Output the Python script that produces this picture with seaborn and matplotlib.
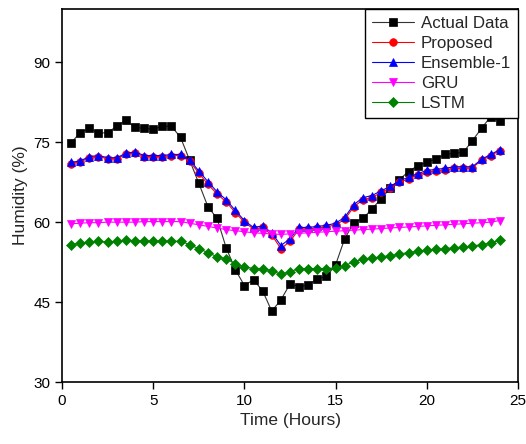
import matplotlib
matplotlib.use("Agg")
import matplotlib.pyplot as plt
import seaborn as sns
import numpy as np

hours = [0.5, 1, 1.5, 2, 2.5, 3, 3.5, 4, 4.5, 5, 5.5, 6, 6.5, 7, 7.5, 8, 8.5, 9, 9.5, 10,
         10.5, 11, 11.5, 12, 12.5, 13, 13.5, 14, 14.5, 15, 15.5, 16, 16.5, 17, 17.5, 18,
         18.5, 19, 19.5, 20, 20.5, 21, 21.5, 22, 22.5, 23, 23.5, 24]

actual = [74.9, 76.8, 77.6, 76.7, 76.8, 78.0, 79.1, 77.8, 77.6, 77.4, 78.0, 78.0, 75.9, 71.6,
          67.3, 62.9, 60.7, 55.2, 51.1, 48.1, 49.2, 47.1, 43.3, 45.4, 48.4, 47.9, 48.2, 49.4,
          49.8, 52.0, 56.9, 59.9, 60.7, 62.5, 64.4, 66.4, 68.0, 69.5, 70.6, 71.2, 71.9, 72.7,
          72.9, 73.1, 75.3, 77.6, 79.8, 78.9]

ensemble = [71.2, 71.5, 72.3, 72.5, 72.1, 72.1, 72.9, 73.2, 72.5, 72.5, 72.5, 72.7, 72.7, 71.7,
            69.6, 67.6, 65.7, 64.2, 62.2, 60.3, 59.0, 59.3, 58.0, 55.6, 56.9, 59.0, 59.0, 59.2,
            59.4, 59.8, 60.9, 63.3, 64.6, 65.0, 65.9, 66.7, 67.8, 68.4, 69.1, 69.7, 69.9, 70.1,
            70.4, 70.4, 70.4, 71.8, 72.7, 73.6]

proposed = [71.0, 71.3, 72.1, 72.3, 71.9, 71.9, 72.7, 73.0, 72.3, 72.3, 72.3, 72.5, 72.5, 71.4,
            69.2, 67.1, 65.3, 63.8, 61.8, 60.0, 58.7, 59.0, 57.6, 55.0, 56.4, 58.7, 58.7, 58.9,
            59.1, 59.5, 60.5, 62.9, 64.2, 64.6, 65.6, 66.4, 67.5, 68.1, 68.8, 69.4, 69.6, 69.8,
            70.1, 70.1, 70.2, 71.6, 72.5, 73.4]

gru = [59.7, 59.8, 59.9, 59.9, 60.0, 60.0, 60.0, 60.0, 60.1, 60.1, 60.1, 60.1, 60.1, 59.8,
       59.5, 59.2, 58.9, 58.6, 58.4, 58.2, 58.0, 57.9, 57.8, 57.7, 57.8, 57.9, 58.0, 58.1,
       58.2, 58.3, 58.4, 58.5, 58.6, 58.7, 58.8, 58.9, 59.0, 59.1, 59.2, 59.3, 59.4, 59.5,
       59.6, 59.7, 59.8, 59.9, 60.0, 60.3]

lstm = [55.8, 56.1, 56.2, 56.4, 56.3, 56.4, 56.6, 56.5, 56.5, 56.4, 56.5, 56.4, 56.4, 55.8,
        55.0, 54.3, 53.5, 53.1, 52.2, 51.6, 51.3, 51.3, 50.9, 50.2, 50.7, 51.3, 51.3, 51.3,
        51.3, 51.4, 51.8, 52.6, 53.0, 53.2, 53.5, 53.7, 54.0, 54.3, 54.5, 54.7, 54.9, 55.0,
        55.2, 55.3, 55.5, 55.8, 56.1, 56.6]

series_names = ["Actual Data", "Proposed", "Ensemble-1", "GRU", "LSTM"]
x_ticks = [0, 5, 10, 15, 20, 25]
y_ticks = [30, 45, 60, 75, 90]

sns.set_style("ticks")
plt.rcParams['font.family'] = ['Liberation Sans', 'DejaVu Sans']

fig = plt.figure(figsize=(5.26, 4.44), dpi=100)
ax = fig.add_axes([62/526, 1 - 382/444, (518-62)/526, (382-9)/444])

styles = [
    (actual, "black", "s", "#333333", 5.5),
    (proposed, "red", "o", "red", 5.5),
    (ensemble, "blue", "^", "blue", 6.0),
    (gru, "#FF00FF", "v", "#FF00FF", 6.0),
    (lstm, "#008000", "D", "#008000", 4.8),
]
for (vals, mcol, mk, lcol, ms), name in zip(styles, series_names):
    sns.lineplot(x=hours, y=vals, ax=ax, color=lcol, linewidth=0.8, marker=mk,
                 markersize=ms, markerfacecolor=mcol, markeredgecolor=mcol,
                 markeredgewidth=0.5, label=name)

ax.set_xlim(0, 25)
ax.set_ylim(30, 100)
ax.set_xticks(x_ticks)
ax.set_yticks(y_ticks)
ax.tick_params(direction="out", length=5, width=1, labelsize=11, colors="black")
for s in ax.spines.values():
    s.set_visible(True)
    s.set_linewidth(1.2)
    s.set_color("black")
ax.set_xlabel("Time (Hours)", fontsize=12.5)
ax.set_ylabel("Humidity (%)", fontsize=12.5)

leg = ax.legend(loc="upper right", fontsize=12.2, frameon=True, fancybox=False,
                framealpha=1, edgecolor="black", borderaxespad=0.0, handlelength=2.5,
                labelspacing=0.3, borderpad=0.4, handletextpad=0.4)
leg.get_frame().set_linewidth(1.0)

fig.savefig("out.png", dpi=100)
